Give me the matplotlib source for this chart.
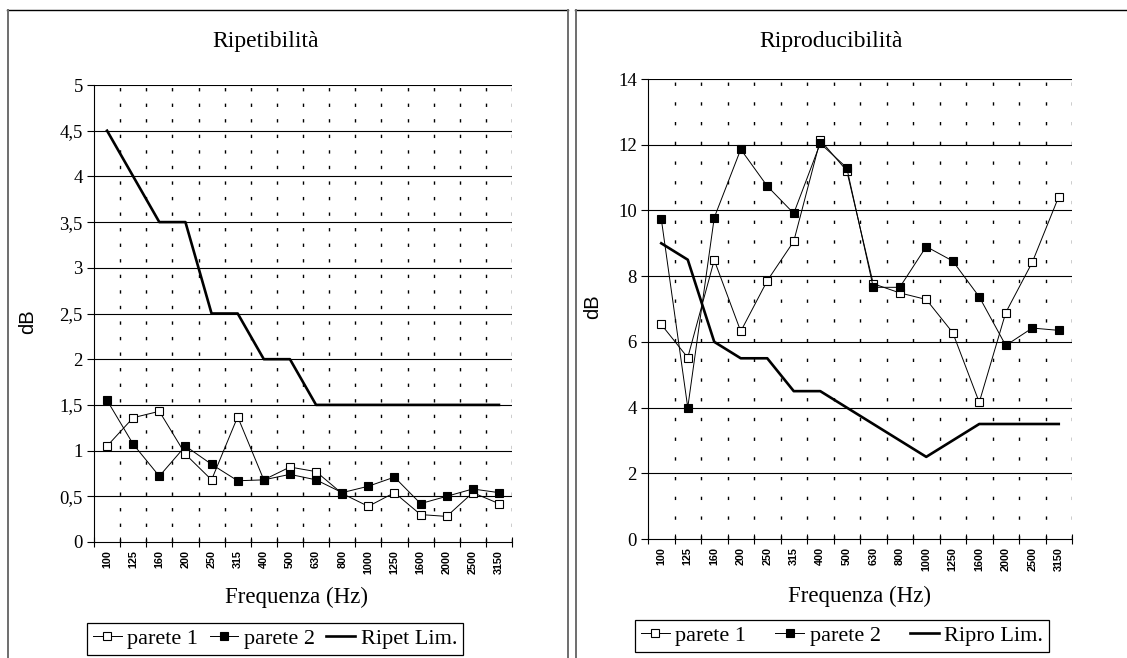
import matplotlib
matplotlib.use("Agg")
import matplotlib.pyplot as plt
from matplotlib.lines import Line2D
from matplotlib.ticker import FixedLocator, FuncFormatter

W, H = 1127, 658

freqs = ["100", "125", "160", "200", "250", "315", "400", "500", "630", "800",
         "1000", "1250", "1600", "2000", "2500", "3150"]

# Ripetibilità
rep_p1 = [1.05, 1.36, 1.43, 0.96, 0.68, 1.37, 0.68, 0.82, 0.77, 0.53,
          0.39, 0.54, 0.30, 0.28, 0.54, 0.42]
rep_p2 = [1.55, 1.07, 0.72, 1.05, 0.85, 0.67, 0.68, 0.74, 0.68, 0.54,
          0.61, 0.71, 0.42, 0.50, 0.58, 0.54]
rep_lim = [4.5, 4.0, 3.5, 3.5, 2.5, 2.5, 2.0, 2.0, 1.5, 1.5,
           1.5, 1.5, 1.5, 1.5, 1.5, 1.5]

# Riproducibilità
rip_p1 = [6.53, 5.52, 8.49, 6.32, 7.86, 9.06, 12.14, 11.21, 7.77, 7.49,
          7.29, 6.28, 4.16, 6.89, 8.42, 10.42]
rip_p2 = [9.75, 4.00, 9.78, 11.86, 10.74, 9.91, 12.04, 11.30, 7.66, 7.66,
          8.90, 8.46, 7.37, 5.89, 6.42, 6.35]
rip_lim = [9.0, 8.5, 6.0, 5.5, 5.5, 4.5, 4.5, 4.0, 3.5, 3.0,
           2.5, 3.0, 3.5, 3.5, 3.5, 3.5]

SERIF = ["Liberation Serif", "DejaVu Serif"]
SANS = ["Liberation Sans", "DejaVu Sans"]

fig = plt.figure(figsize=(W / 100, H / 100), dpi=100)
fig.patch.set_facecolor("white")


def fx(x):
    return x / W


def fy(y):
    return 1 - y / H


def make_panel(x0, x1, ytop, ybot, ymax, ystep, p1, p2, lim, limname,
               title, title_xy, dB_xy, xlab_xy, leg_box, colsp, dash):
    ax = fig.add_axes([fx(x0), fy(ybot), fx(x1) - fx(x0), fy(ytop) - fy(ybot)])
    n = len(freqs)
    xs = [i + 0.5 for i in range(n)]
    ax.set_xlim(0, n)
    ax.set_ylim(0, ymax)
    # grid
    yt = [k * ystep for k in range(int(round(ymax / ystep)) + 1)]
    for v in yt[1:]:
        ax.axhline(v, color="black", lw=0.8, zorder=1)
    for k in range(1, n + 1):
        ax.axvline(k, color="black", lw=1.0, dashes=dash, zorder=1)
    h1, = ax.plot(xs, p1, color="black", lw=0.7, marker="s", ms=5.2,
                  mfc="white", mec="black", mew=0.8, zorder=3, label="parete 1")
    h2, = ax.plot(xs, p2, color="black", lw=0.7, marker="s", ms=5.2,
                  mfc="black", mec="black", mew=0.8, zorder=3, label="parete 2")
    h3, = ax.plot(xs, lim, color="black", lw=1.9, zorder=4, label=limname)
    for s in ["top", "right"]:
        ax.spines[s].set_visible(False)
    ax.spines["left"].set_linewidth(0.8)
    ax.spines["bottom"].set_linewidth(0.8)
    ax.yaxis.set_major_locator(FixedLocator(yt))
    ax.yaxis.set_major_formatter(FuncFormatter(
        lambda v, p: (("%g" % v).replace(".", ","))))
    ax.tick_params(axis="y", direction="out", length=5, width=0.8, pad=3,
                   labelsize=13.5, labelfontfamily=SERIF)
    ax.xaxis.set_major_locator(FixedLocator(list(range(n + 1))))
    ax.xaxis.set_major_formatter(FuncFormatter(lambda v, p: ""))
    ax.xaxis.set_minor_locator(FixedLocator(xs))
    ax.set_xticks(xs, freqs, minor=True)
    ax.tick_params(axis="x", which="major", direction="inout", length=7,
                   width=0.8)
    ax.tick_params(axis="x", which="minor", length=0, pad=6)
    for lab in ax.get_xticklabels(minor=True):
        lab.set_rotation(90)
        lab.set_fontsize(7.8)
        lab.set_fontweight("bold")
        lab.set_fontfamily(SANS)
        lab.set_va("top")
        lab.set_ha("center")
    fig.text(fx(title_xy[0]), fy(title_xy[1]), title, family=SERIF,
             fontsize=17, ha="center", va="center")
    fig.text(fx(dB_xy[0]), fy(dB_xy[1]), "dB", family=SANS, fontsize=14.5,
             rotation=90, ha="center", va="center")
    fig.text(fx(xlab_xy[0]), fy(xlab_xy[1]), "Frequenza (Hz)", family=SERIF,
             fontsize=16.5, ha="center", va="center")
    leg = fig.legend(handles=[h1, h2, h3], loc="upper center",
                     bbox_to_anchor=(fx(leg_box[0]), fy(leg_box[1])),
                     bbox_transform=fig.transFigure, ncol=3,
                     prop={"family": SERIF, "size": 16}, frameon=True,
                     fancybox=False, edgecolor="black", framealpha=1,
                     handlelength=1.3, handletextpad=0.25, columnspacing=colsp,
                     borderpad=0.25, borderaxespad=0)
    leg.get_frame().set_linewidth(0.9)
    return ax


make_panel(94, 512, 85, 542, 5, 0.5, rep_p1, rep_p2, rep_lim, "Ripet Lim.",
           "Ripetibilità", (266, 41), (28, 322), (297, 597), (275, 623), 0.5,
           (2.4, 8.8))
make_panel(648, 1072, 79, 539, 14, 2, rip_p1, rip_p2, rip_lim, "Ripro Lim.",
           "Riproducibilità", (831, 41), (593, 307), (860, 596), (842, 620), 1.3,
           (2.4, 11.8))

# panel frames
def fline(xa, ya, xb, yb, color, lw):
    fig.add_artist(Line2D([fx(xa), fx(xb)], [fy(ya), fy(yb)], color=color,
                          lw=lw, transform=fig.transFigure))

fline(7, 9.5, 568, 9.5, "black", 1.0)
fline(7.5, 9.5, 7.5, 658, "#6e6e6e", 1.4)
fline(567.5, 9.5, 567.5, 658, "#6e6e6e", 1.4)
fline(575, 9.5, 1127, 9.5, "black", 1.0)
fline(575.5, 9.5, 575.5, 658, "#6e6e6e", 1.4)

fig.savefig("out.png", dpi=100)
